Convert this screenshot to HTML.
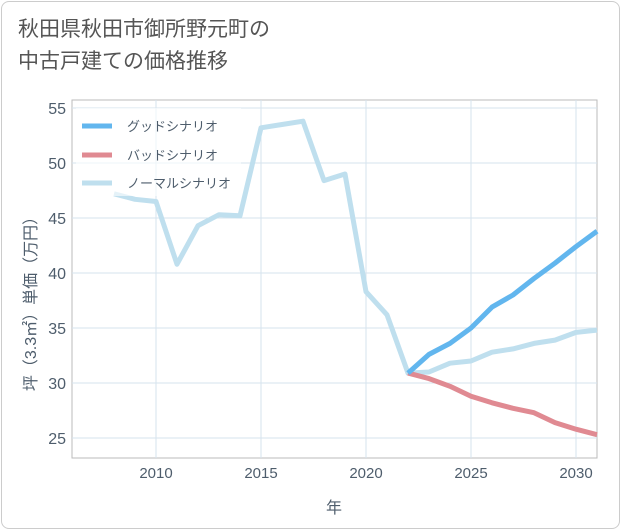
<!DOCTYPE html>
<html><head><meta charset="utf-8"><style>
body{margin:0;background:#fff;font-family:"Liberation Sans","Noto Sans CJK JP",sans-serif;}
.card{position:absolute;left:1px;top:1px;width:617px;height:526px;border:1px solid #ccc;border-radius:8px;background:#fff;}
.title{position:absolute;left:18px;top:14px;font-size:21px;color:#555;line-height:32px;}
</style></head><body>
<div class="card"></div>
<div class="title">秋田県秋田市御所野元町の<br>中古戸建ての価格推移</div>
<svg id="chart" width="621" height="530" style="position:absolute;left:0;top:0"></svg>
<script>
const years=[2008,2009,2010,2011,2012,2013,2014,2015,2016,2017,2018,2019,2020,2021,2022,2023,2024,2025,2026,2027,2028,2029,2030,2031];
const normalValues=[47.2,46.7,46.5,40.8,44.3,45.3,45.2,53.2,53.5,53.8,48.4,49.0,38.3,36.2,30.9,31.0,31.8,32.0,32.8,33.1,33.6,33.9,34.6,34.8];
const futureYears=[2022,2023,2024,2025,2026,2027,2028,2029,2030,2031];
const goodValues=[30.9,32.6,33.6,35.0,36.9,38.0,39.5,40.9,42.4,43.8];
const badValues=[30.9,30.4,29.7,28.8,28.2,27.7,27.3,26.4,25.8,25.3];
const xTicks=[2010,2015,2020,2025,2030];
const yTicks=[25,30,35,40,45,50,55];
const svg=document.getElementById('chart');
const NS='http://www.w3.org/2000/svg';
const L=72,R=597,T=100,B=458;
const x=v=>156+(v-2010)*21;
const y=v=>383-(v-30)*11;
const TC='#4e5d6c';
function mk(t,a){const e=document.createElementNS(NS,t);for(const k in a)e.setAttribute(k,a[k]);svg.appendChild(e);return e;}
let e=mk('rect',{x:L,y:T,width:R-L,height:B-T,fill:'none',stroke:'#bbb'});


xTicks.forEach(t=>{
 const g=mk('line',{x1:x(t),x2:x(t),y1:T,y2:B,stroke:'#d5e3ee'});
 
 
 const tx=mk('text',{x:x(t),y:478,'text-anchor':'middle','font-size':15,fill:TC});tx.textContent=t;
 
 
});
yTicks.forEach(t=>{
 const g=mk('line',{x1:L,x2:R,y1:y(t),y2:y(t),stroke:'#d5e3ee'});
 
 
 const tx=mk('text',{x:66,y:y(t)+6,'text-anchor':'end','font-size':16,fill:TC});tx.textContent=t;
 
 
});
function line(xs,vs,c,name){
 const p=mk('polyline',{points:xs.map((a,i)=>x(a)+','+y(vs[i])).join(' '),fill:'none',stroke:c,'stroke-width':5,'stroke-linejoin':'round'});
 
 
}
line(years,normalValues,'#bfdfee','normal-scenario-line');
line(futureYears,badValues,'#e08a92','bad-scenario-line');
line(futureYears,goodValues,'#62b6ee','good-scenario-line');
let lg=mk('rect',{x:76,y:108,width:165,height:88,fill:'#fff',opacity:0.6});


[['グッドシナリオ','#62b6ee',126],['バッドシナリオ','#e08a92',155],['ノーマルシナリオ','#bfdfee',183]].forEach(([n,c,yy])=>{
 const l=mk('line',{x1:82,x2:112,y1:yy,y2:yy,stroke:c,'stroke-width':5});
 
 
 const t=mk('text',{x:127,y:yy+5,'font-size':13,fill:TC});t.textContent=n;
 
 
});
let xt=mk('text',{x:334,y:513,'text-anchor':'middle','font-size':16,fill:TC});xt.textContent='年';


let yt=mk('text',{x:0,y:0,'text-anchor':'middle','font-size':16,fill:TC,transform:'translate(36,300) rotate(-90)'});yt.textContent='坪（3.3㎡）単価（万円）';


</script>
</body></html>
